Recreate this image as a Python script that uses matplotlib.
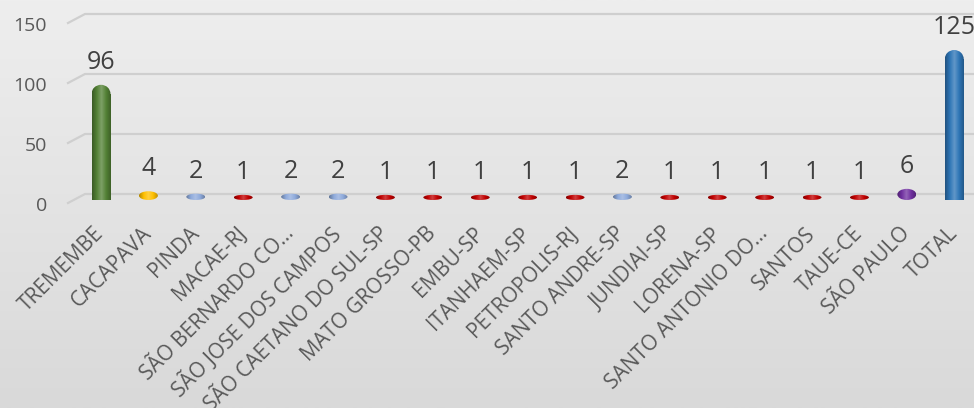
import matplotlib.pyplot as plt
import numpy as np
from matplotlib.patches import Ellipse, Rectangle
from matplotlib.colors import LinearSegmentedColormap, to_rgb
from matplotlib.transforms import ScaledTranslation, blended_transform_factory

plt.rcParams['font.family'] = ['Open Sans', 'DejaVu Sans']

cities = ["TREMEMBE", "CACAPAVA", "PINDA", "MACAE-RJ", "SÃO BERNARDO CO…",
          "SÃO JOSE DOS CAMPOS", "SÃO CAETANO DO SUL-SP", "MATO GROSSO-PB",
          "EMBU-SP", "ITANHAEM-SP", "PETROPOLIS-RJ", "SANTO ANDRE-SP",
          "JUNDIAI-SP", "LORENA-SP", "SANTO ANTONIO DO…", "SANTOS", "TAUE-CE",
          "SÃO PAULO", "TOTAL"]
counts = [96, 4, 2, 1, 2, 2, 1, 1, 1, 1, 1, 2, 1, 1, 1, 1, 1, 6, 125]
y_ticks = [0, 50, 100, 150]

RED, LBLUE = "#c00000", "#8eaadb"
colors = ["#538135", "#ffc000", LBLUE, RED, LBLUE, LBLUE, RED, RED, RED, RED,
          RED, LBLUE, RED, RED, RED, RED, RED, "#7030a0", "#2e75b6"]
TEXT = "#595959"


def shade(c, f):
    r = np.array(to_rgb(c))
    return tuple(r * f) if f < 1 else tuple(r + (1 - r) * (f - 1))


def cyl_cmap(c):
    return LinearSegmentedColormap.from_list(
        "cyl", [shade(c, 0.7), c, shade(c, 1.25), c, shade(c, 0.75)])


fig = plt.figure(figsize=(9.74, 4.08), dpi=100)

# soft grey background gradient
bg = fig.add_axes([0, 0, 1, 1], zorder=-10)
grad = np.linspace(0, 1, 256).reshape(-1, 1)
bg.imshow(grad, aspect="auto", extent=[0, 1, 0, 1],
          cmap=LinearSegmentedColormap.from_list("bg", ["#eeeeee", "#d9d9d9"]))
bg.axis("off")

ax = fig.add_axes([77.3 / 974, 208 / 408, 895.9 / 974, 180 / 408])
ax.patch.set_alpha(0)
ax.set_xlim(-0.5, 18.4)
ax.set_ylim(0, 150)
for s in ax.spines.values():
    s.set_visible(False)

# back-wall gridlines (slightly raised, 3D look) with perspective stubs
px = lambda p: ScaledTranslation(0, p / 100, fig.dpi_scale_trans)
blend = blended_transform_factory(ax.transAxes, ax.transData)
x0 = (85 - 77.3) / 895.9
xd = (68 - 77.3) / 895.9
for v in y_ticks:
    ax.plot([xd, x0, 1], [v - 7.5, v, v], color="#cfcfcf", lw=1.6,
            transform=blend + px(6), clip_on=False, zorder=0)
    ax.text(-0.034, v, str(v), transform=blend + px(-6), ha="right", va="center",
            fontsize=14, color=TEXT)
ax.set_yticks([])

w = 0.4
cap = 15  # data units for rounded top (about 18 px)
hgrad = np.linspace(0, 1, 64).reshape(1, -1)
for i, (v, c) in enumerate(zip(counts, colors)):
    cm = cyl_cmap(c)
    if v > 10:
        body = Rectangle((i - w / 2, 0), w, v - cap / 2, lw=0, fc="none")
        top = Ellipse((i, v - cap / 2), w, cap, lw=0, fc="none")
        base = Ellipse((i, 0), w, 4, lw=0, fc="none")
        for p in (body, top, base):
            ax.add_patch(p)
            im = ax.imshow(hgrad, cmap=cm, aspect="auto", zorder=3,
                           extent=[i - w / 2, i + w / 2, -3, v], clip_on=True)
            im.set_clip_path(p)
        label_y = v
    else:
        h = 3.3 + v
        blob = Ellipse((i, h / 2), w, h, lw=0, fc="none")
        ax.add_patch(blob)
        im = ax.imshow(hgrad, cmap=cm, aspect="auto", zorder=3,
                       extent=[i - w / 2, i + w / 2, 0, h])
        im.set_clip_path(blob)
        label_y = h
    ax.annotate(str(v), (i, label_y), xytext=(0, 16), textcoords="offset pixels",
                ha="center", va="baseline", fontsize=18, color="#404040")

ax.set_xlim(-0.5, 18.4)
ax.set_ylim(0, 150)
ax.set_xticks(np.arange(len(cities)))
ax.set_xticklabels(cities, rotation=45, ha="right", va="center",
                   rotation_mode="anchor", fontsize=15, color=TEXT)
ax.tick_params(axis="x", length=0, pad=22)

fig.savefig("out.png", dpi=100)
